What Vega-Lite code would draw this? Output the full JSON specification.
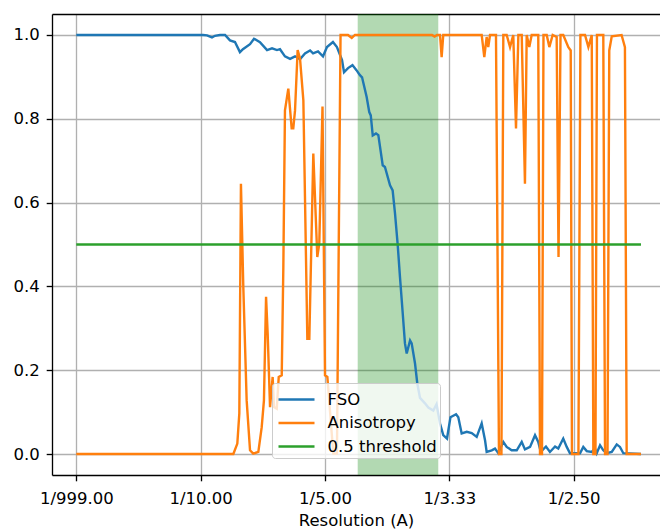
{
  "$schema": "https://vega.github.io/schema/vega-lite/v6.json",
  "autosize": {"type": "none"},
  "padding": {"left": 52, "top": 14, "right": 0, "bottom": 54},
  "width": 608,
  "height": 461,
  "background": "white",
  "config": {
    "view": {"stroke": null},
    "axis": {
      "labelFont": "DejaVu Sans",
      "labelFontSize": 16.5,
      "labelColor": "#000000",
      "titleFont": "DejaVu Sans",
      "titleFontSize": 16.5,
      "titleFontWeight": "normal",
      "titleColor": "#000000",
      "domainColor": "#000000",
      "domainWidth": 1.33,
      "tickColor": "#000000",
      "tickWidth": 1.33,
      "tickSize": 5.8,
      "gridColor": "#b0b0b0",
      "gridWidth": 1.33,
      "gridOpacity": 1
    }
  },
  "datasets": {
    "span": [{"start": 0.2263, "end": 0.2911}],
    "fso": [
      {"f":0,"v":1.0},{"f":0.1019,"v":1.0},{"f":0.1051,"v":0.999},{"f":0.1091,"v":0.994},{"f":0.1115,"v":0.998},{"f":0.1156,"v":1.0},{"f":0.1196,"v":1.0},{"f":0.1236,"v":0.987},{"f":0.1276,"v":0.983},{"f":0.1316,"v":0.959},{"f":0.134,"v":0.966},{"f":0.1397,"v":0.978},{"f":0.1429,"v":0.991},{"f":0.1477,"v":0.983},{"f":0.1534,"v":0.964},{"f":0.1574,"v":0.968},{"f":0.1614,"v":0.964},{"f":0.1638,"v":0.966},{"f":0.1678,"v":0.949},{"f":0.1719,"v":0.943},{"f":0.1759,"v":0.949},{"f":0.1799,"v":0.942},{"f":0.1839,"v":0.956},{"f":0.188,"v":0.963},{"f":0.1904,"v":0.956},{"f":0.1944,"v":0.961},{"f":0.1984,"v":0.949},{"f":0.2016,"v":0.971},{"f":0.2064,"v":0.983},{"f":0.2096,"v":0.971},{"f":0.2137,"v":0.94},{"f":0.2153,"v":0.911},{"f":0.2185,"v":0.921},{"f":0.2221,"v":0.928},{"f":0.2253,"v":0.916},{"f":0.2281,"v":0.904},{"f":0.2298,"v":0.899},{"f":0.2335,"v":0.852},{"f":0.2356,"v":0.816},{"f":0.2368,"v":0.808},{"f":0.2384,"v":0.76},{"f":0.241,"v":0.765},{"f":0.2429,"v":0.761},{"f":0.2464,"v":0.689},{"f":0.2482,"v":0.685},{"f":0.2523,"v":0.641},{"f":0.2544,"v":0.629},{"f":0.2563,"v":0.574},{"f":0.2585,"v":0.498},{"f":0.2603,"v":0.422},{"f":0.2625,"v":0.336},{"f":0.2643,"v":0.264},{"f":0.2657,"v":0.24},{"f":0.2684,"v":0.271},{"f":0.2697,"v":0.264},{"f":0.2724,"v":0.216},{"f":0.2742,"v":0.169},{"f":0.2764,"v":0.134},{"f":0.2804,"v":0.121},{"f":0.2831,"v":0.111},{"f":0.2871,"v":0.104},{"f":0.2897,"v":0.119},{"f":0.2925,"v":0.073},{"f":0.2951,"v":0.045},{"f":0.2981,"v":0.037},{"f":0.3009,"v":0.088},{"f":0.3054,"v":0.095},{"f":0.3072,"v":0.088},{"f":0.3099,"v":0.049},{"f":0.314,"v":0.053},{"f":0.318,"v":0.05},{"f":0.322,"v":0.041},{"f":0.326,"v":0.073},{"f":0.3287,"v":0.033},{"f":0.33,"v":0.005},{"f":0.3341,"v":0.009},{"f":0.3367,"v":0.013},{"f":0.3394,"v":0.002},{"f":0.3434,"v":0.029},{"f":0.3461,"v":0.017},{"f":0.3501,"v":0.009},{"f":0.3542,"v":0.009},{"f":0.3582,"v":0.029},{"f":0.3608,"v":0.011},{"f":0.3649,"v":0.017},{"f":0.3689,"v":0.045},{"f":0.3715,"v":0.029},{"f":0.3735,"v":0.005},{"f":0.3777,"v":0.018},{"f":0.3809,"v":0.005},{"f":0.385,"v":0.018},{"f":0.3876,"v":0.013},{"f":0.3916,"v":0.037},{"f":0.3944,"v":0.017},{"f":0.397,"v":0.002},{"f":0.4051,"v":0.002},{"f":0.4077,"v":0.017},{"f":0.4105,"v":0.007},{"f":0.4145,"v":0.005},{"f":0.4171,"v":0.013},{"f":0.4185,"v":0.002},{"f":0.4212,"v":0.021},{"f":0.4238,"v":0.009},{"f":0.4265,"v":0.002},{"f":0.4306,"v":0.005},{"f":0.4346,"v":0.023},{"f":0.4372,"v":0.017},{"f":0.4399,"v":0.002},{"f":0.4541,"v":0.0}
    ],
    "aniso": [
      {"f":0,"v":0},{"f":0.1263,"v":0},{"f":0.1295,"v":0.025},{"f":0.1311,"v":0.097},{"f":0.1324,"v":0.645},{"f":0.1343,"v":0.399},{"f":0.137,"v":0.128},{"f":0.1397,"v":0.009},{"f":0.1423,"v":0.001},{"f":0.1464,"v":0.005},{"f":0.1491,"v":0.064},{"f":0.1509,"v":0.128},{"f":0.1526,"v":0.375},{"f":0.1539,"v":0.287},{"f":0.1558,"v":0.112},{"f":0.1579,"v":0.184},{"f":0.159,"v":0.112},{"f":0.1612,"v":0.108},{"f":0.1628,"v":0.184},{"f":0.1652,"v":0.188},{"f":0.1665,"v":0.446},{"f":0.1678,"v":0.82},{"f":0.1705,"v":0.872},{"f":0.1732,"v":0.777},{"f":0.1745,"v":0.777},{"f":0.1759,"v":0.82},{"f":0.178,"v":0.964},{"f":0.1799,"v":0.944},{"f":0.1826,"v":0.844},{"f":0.1858,"v":0.275},{"f":0.1874,"v":0.275},{"f":0.1906,"v":0.717},{"f":0.1938,"v":0.47},{"f":0.1954,"v":0.502},{"f":0.198,"v":0.829},{"f":0.2,"v":0.188},{"f":0.2019,"v":0.184},{"f":0.2046,"v":0.08},{"f":0.2067,"v":0.001},{"f":0.2096,"v":0.001},{"f":0.2125,"v":1.0},{"f":0.2185,"v":1.0},{"f":0.2215,"v":0.993},{"f":0.2241,"v":1.0},{"f":0.286,"v":1.0},{"f":0.2881,"v":0.996},{"f":0.2901,"v":1.0},{"f":0.2925,"v":1.0},{"f":0.2938,"v":0.947},{"f":0.2951,"v":1.0},{"f":0.326,"v":1.0},{"f":0.3281,"v":0.947},{"f":0.33,"v":0.995},{"f":0.3313,"v":0.971},{"f":0.3327,"v":1.0},{"f":0.3375,"v":1.0},{"f":0.3399,"v":0},{"f":0.3419,"v":0},{"f":0.3434,"v":1.0},{"f":0.3461,"v":1.0},{"f":0.3488,"v":0.971},{"f":0.3514,"v":1.0},{"f":0.3536,"v":0.777},{"f":0.3555,"v":1.0},{"f":0.3582,"v":1.0},{"f":0.3608,"v":0.645},{"f":0.3622,"v":1.0},{"f":0.3643,"v":0.971},{"f":0.3662,"v":1.0},{"f":0.3715,"v":1.0},{"f":0.3729,"v":0},{"f":0.3745,"v":0},{"f":0.3757,"v":1.0},{"f":0.3783,"v":1.0},{"f":0.3804,"v":0.971},{"f":0.3831,"v":1.0},{"f":0.3863,"v":0.995},{"f":0.3878,"v":0.47},{"f":0.3894,"v":1.0},{"f":0.3916,"v":1.0},{"f":0.3957,"v":0.971},{"f":0.3976,"v":0.963},{"f":0.3986,"v":0},{"f":0.4038,"v":0},{"f":0.4054,"v":1.0},{"f":0.4091,"v":1.0},{"f":0.4118,"v":0.971},{"f":0.4145,"v":1.0},{"f":0.4158,"v":0},{"f":0.4175,"v":0},{"f":0.4187,"v":1.0},{"f":0.4238,"v":1.0},{"f":0.4252,"v":0},{"f":0.4272,"v":0},{"f":0.4286,"v":0.963},{"f":0.4306,"v":0.997},{"f":0.4385,"v":1.0},{"f":0.4412,"v":0.971},{"f":0.4426,"v":0},{"f":0.4541,"v":0}
    ],
    "thr": [{"f":0,"v":0.5},{"f":0.4541,"v":0.5}]
  },
  "resolve": {"axis": {"x": "independent"}},
  "layer": [
    {
      "data": {"name": "span"},
      "mark": {"type": "rect", "color": "#008000", "opacity": 0.3},
      "encoding": {
        "x": {"field": "start", "type": "quantitative",
              "scale": {"domain": [-0.01954, 0.4694], "nice": false, "zero": false},
              "axis": {"orient": "top", "labels": false, "ticks": false, "grid": false, "title": null, "domain": true}},
        "x2": {"field": "end"}
      }
    },
    {
      "data": {"name": "fso"},
      "mark": {"type": "line", "strokeWidth": 2.4, "clip": true},
      "encoding": {
        "x": {"field": "f", "type": "quantitative",
              "scale": {"domain": [-0.01954, 0.4694], "nice": false, "zero": false},
              "axis": {"values": [0, 0.1, 0.2, 0.3, 0.4], "title": "Resolution (A)", "grid": true,
                       "labelExpr": "datum.value == 0 ? '1/999.00' : '1/' + format(1/datum.value, '.2f')",
                       "labelPadding": 10, "titlePadding": 5, "labelFlush": false}},
        "y": {"field": "v", "type": "quantitative",
              "scale": {"domain": [-0.05, 1.05], "nice": false, "zero": false},
              "axis": {"values": [0, 0.2, 0.4, 0.6, 0.8, 1.0], "format": ".1f", "title": null, "labelPadding": 7, "grid": true}},
        "color": {"datum": "FSO", "type": "nominal",
                  "scale": {"domain": ["FSO", "Anisotropy", "0.5 threshold"], "range": ["#1f77b4", "#ff7f0e", "#2ca02c"]},
                  "legend": {"orient": "none", "legendX": 220, "legendY": 369, "title": null,
                             "symbolType": "M-1.5,0H1.5", "symbolSize": 576, "symbolStrokeWidth": 2.5, "symbolOffset": 8,
                             "labelFont": "DejaVu Sans", "labelFontSize": 16.5, "labelColor": "#000000",
                             "fillColor": "rgba(255,255,255,0.8)", "strokeColor": "#cccccc", "cornerRadius": 3,
                             "padding": 3, "rowPadding": 1.5, "labelOffset": 17.5, "offset": 0}}
      }
    },
    {
      "data": {"name": "aniso"},
      "mark": {"type": "line", "strokeWidth": 2.4, "clip": true},
      "encoding": {
        "x": {"field": "f", "type": "quantitative", "axis": null},
        "y": {"field": "v", "type": "quantitative"},
        "color": {"datum": "Anisotropy", "type": "nominal"}
      }
    },
    {
      "data": {"name": "thr"},
      "mark": {"type": "line", "strokeWidth": 2.4, "clip": true},
      "encoding": {
        "x": {"field": "f", "type": "quantitative", "axis": null},
        "y": {"field": "v", "type": "quantitative"},
        "color": {"datum": "0.5 threshold", "type": "nominal"}
      }
    }
  ]
}
